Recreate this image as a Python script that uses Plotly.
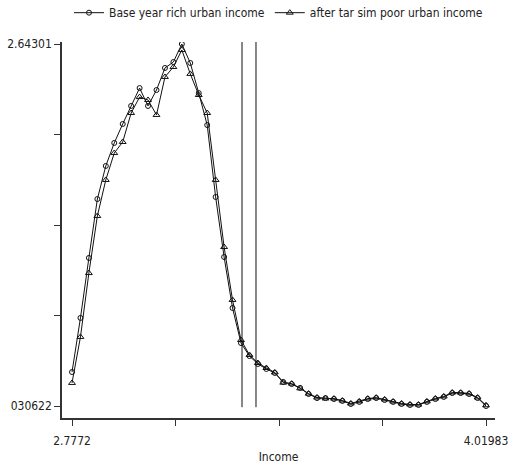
import plotly.graph_objects as go

income = [2.7772, 2.8026, 2.8279, 2.8533, 2.8786, 2.9040, 2.9294, 2.9547, 2.9801, 3.0054,
          3.0308, 3.0562, 3.0815, 3.1069, 3.1322, 3.1576, 3.1830, 3.2083, 3.2337, 3.2590,
          3.2844, 3.3098, 3.3351, 3.3605, 3.3858, 3.4112, 3.4366, 3.4619, 3.4873, 3.5126,
          3.5380, 3.5634, 3.5887, 3.6141, 3.6394, 3.6648, 3.6902, 3.7155, 3.7409, 3.7662,
          3.7916, 3.8170, 3.8423, 3.8677, 3.8930, 3.9184, 3.9438, 3.9691, 3.9945, 4.01983]

base_rich = [0.276, 0.666, 1.099, 1.524, 1.763, 1.929, 2.066, 2.196, 2.325, 2.196,
             2.311, 2.470, 2.513, 2.64301, 2.506, 2.289, 2.058, 1.539, 1.106, 0.738,
             0.485, 0.391, 0.334, 0.298, 0.269, 0.204, 0.189, 0.161, 0.117, 0.088,
             0.088, 0.081, 0.067, 0.045, 0.060, 0.081, 0.088, 0.074, 0.060, 0.045,
             0.038, 0.038, 0.060, 0.081, 0.096, 0.124, 0.124, 0.117, 0.088, 0.030622]

after_poor = [0.197, 0.529, 0.990, 1.402, 1.662, 1.856, 1.936, 2.145, 2.260, 2.239,
              2.131, 2.405, 2.477, 2.600, 2.427, 2.275, 2.145, 1.662, 1.178, 0.796,
              0.507, 0.399, 0.341, 0.305, 0.273, 0.199, 0.192, 0.158, 0.120, 0.092,
              0.085, 0.084, 0.070, 0.049, 0.064, 0.084, 0.091, 0.078, 0.063, 0.049,
              0.042, 0.041, 0.064, 0.085, 0.100, 0.128, 0.127, 0.121, 0.092, 0.036]

vlines = [3.2874, 3.3294]

x_ticks = [2.7772, 3.08787, 3.39852, 3.70918, 4.01983]
x_labels = ["2.7772", "", "", "", "4.01983"]
y_ticks = [0.030622, 0.683719, 1.336816, 1.989913, 2.64301]
y_labels = ["030622", "", "", "", "2.64301"]

FONT = "Liberation Sans Narrow, DejaVu Sans Condensed, Arial Narrow, sans-serif"

fig = go.Figure()
fig.add_trace(go.Scatter(
    x=income, y=base_rich, mode="lines+markers", name="Base year rich urban income",
    line=dict(color="#111", width=1),
    marker=dict(symbol="circle-open", size=5, color="#111", line=dict(width=1))))
fig.add_trace(go.Scatter(
    x=income, y=after_poor, mode="lines+markers", name="after tar sim poor urban income",
    line=dict(color="#111", width=1),
    marker=dict(symbol="triangle-up-open", size=6, color="#111", line=dict(width=1))))

for v in vlines:
    fig.add_shape(type="line", xref="x", yref="y", x0=v, x1=v, y0=0.022, y1=2.6574,
                  line=dict(color="#111", width=1))

fig.update_layout(
    width=524, height=464,
    margin=dict(l=62, r=29, t=42, b=46, autoexpand=False),
    paper_bgcolor="white", plot_bgcolor="white",
    font=dict(family=FONT, size=12, color="#222"),
    showlegend=True,
    legend=dict(orientation="h", x=0.5, xanchor="center", y=1.078, yanchor="middle",
                font=dict(size=12), itemwidth=30, bgcolor="rgba(0,0,0,0)"),
    xaxis=dict(range=[2.74719, 4.04673], tickvals=x_ticks, ticktext=x_labels,
               showgrid=False, zeroline=False, showline=True, linecolor="#333",
               linewidth=1.5, ticks="outside", ticklen=6, tickcolor="#333",
               automargin=False, ticklabelstandoff=5,
               title=dict(text="Income", font=dict(size=12), standoff=6)),
    yaxis=dict(range=[-0.05598, 2.65744], tickvals=y_ticks, ticktext=y_labels,
               showgrid=False, zeroline=False, showline=True, linecolor="#333",
               linewidth=1.5, ticks="outside", ticklen=6, tickcolor="#333",
               automargin=False),
)

fig.write_html("out.html")
